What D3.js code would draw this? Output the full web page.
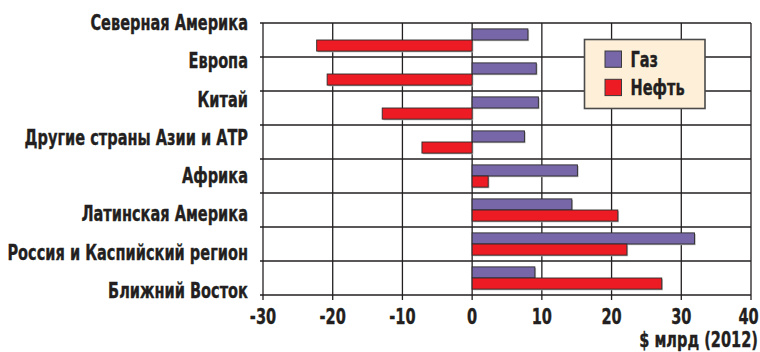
<!DOCTYPE html>
<html><head><meta charset="utf-8">
<script src="https://cdn.jsdelivr.net/npm/d3@7"></script>
<style>
html,body{margin:0;padding:0;background:#fff;}
svg{display:block;}
text{font-family:'DejaVu Sans Condensed','Liberation Sans Narrow',sans-serif;font-weight:bold;fill:#231f20;stroke:#231f20;stroke-width:0.35px;}
</style></head>
<body>
<svg id="c" width="760" height="352"></svg>
<script>
const categories = ["Северная Америка","Европа","Китай","Другие страны Азии и АТР","Африка","Латинская Америка","Россия и Каспийский регион","Ближний Восток"];
const gasValues = [8.0, 9.2, 9.5, 7.5, 15.1, 14.3, 31.9, 9.0];
const oilValues = [-22.3, -20.8, -12.9, -7.2, 2.3, 20.9, 22.2, 27.2];
const seriesNames = ["Газ","Нефть"];
const seriesColors = ["#7766a8","#ed1c24"];
const xTicks = [-30,-20,-10,0,10,20,30,40];
const xUnit = "$ млрд (2012)";

const svg = d3.select("#c");
const L = 263, R = 751, T = 23, B = 295;
const FS = 21, SQ = 0.77;
const x = d3.scaleLinear().domain([-30,40]).range([L,R]);
const y = d3.scaleBand().domain(categories).range([T,B]).padding(0);
const ySub = d3.scaleBand().domain(seriesNames).range([0,y.bandwidth()]).paddingInner(0).paddingOuter(0.53);
const yLabel = d3.scalePoint().domain(categories).range([30,298]);

function squeeze(sel){
  sel.each(function(){
    const w = this.getComputedTextLength();
    d3.select(this).attr("textLength", w*SQ).attr("lengthAdjust","spacingAndGlyphs");
  });
}

const rows = categories.map((c,i)=>({cat:c, vals:[gasValues[i], oilValues[i]]}));

// grid
const grid = svg.append("g");
grid.selectAll("line.v").data(xTicks).join("line")
  .attr("x1",d=>x(d)).attr("x2",d=>x(d)).attr("y1",T).attr("y2",B+5)
  .attr("stroke","#231f20").attr("stroke-width",1.3);
const hLines = categories.map(c=>y(c)).concat([B]);
grid.selectAll("line.h").data(hLines).join("line")
  .attr("x1",L-3).attr("x2",R).attr("y1",d=>d).attr("y2",d=>d)
  .attr("stroke","#231f20").attr("stroke-width",1.3);

// bars
const g = svg.append("g");
rows.forEach(r=>{
  r.vals.forEach((v,j)=>{
    const x0 = x(Math.min(0,v)), w = Math.abs(x(v)-x(0));
    const yy = y(r.cat)+ySub(seriesNames[j]);
    g.append("rect").attr("x",x0+1.2).attr("y",yy+1.2).attr("width",w).attr("height",ySub.bandwidth())
      .attr("fill","#b8b8b8");
    g.append("rect").attr("x",x0).attr("y",yy).attr("width",w).attr("height",ySub.bandwidth())
      .attr("fill",seriesColors[j]).attr("stroke","#2b2b2b").attr("stroke-width",0.9);
  });
});

// category labels
svg.append("g").selectAll("text").data(categories).join("text")
  .attr("x",248).attr("y",d=>yLabel(d)).attr("text-anchor","end")
  .attr("font-size",FS).text(d=>d).call(squeeze);

// x tick labels
svg.append("g").selectAll("text").data(xTicks).join("text")
  .attr("x",d=>Math.min(x(d), 748.5)).attr("y",324).attr("text-anchor","middle")
  .attr("font-size",FS).text(d=>d).call(squeeze);
svg.append("text").attr("x",758).attr("y",347).attr("text-anchor","end")
  .attr("font-size",FS).text(xUnit).call(squeeze);

// legend
const lg = svg.append("g");
lg.append("rect").attr("x",584.5).attr("y",39.5).attr("width",120.5).attr("height",69)
  .attr("fill","#fef0d8").attr("stroke","#4a4a4a").attr("stroke-width",1.6);
seriesNames.forEach((s,i)=>{
  lg.append("rect").attr("x",605).attr("y",51+i*28.3).attr("width",16.5).attr("height",16.3)
    .attr("fill",seriesColors[i]).attr("stroke","#3a3a3a").attr("stroke-width",1);
  lg.append("text").attr("x",630.5).attr("y",66.7+i*28.3).attr("font-size",FS).text(s).call(squeeze);
});
</script>
</body></html>
